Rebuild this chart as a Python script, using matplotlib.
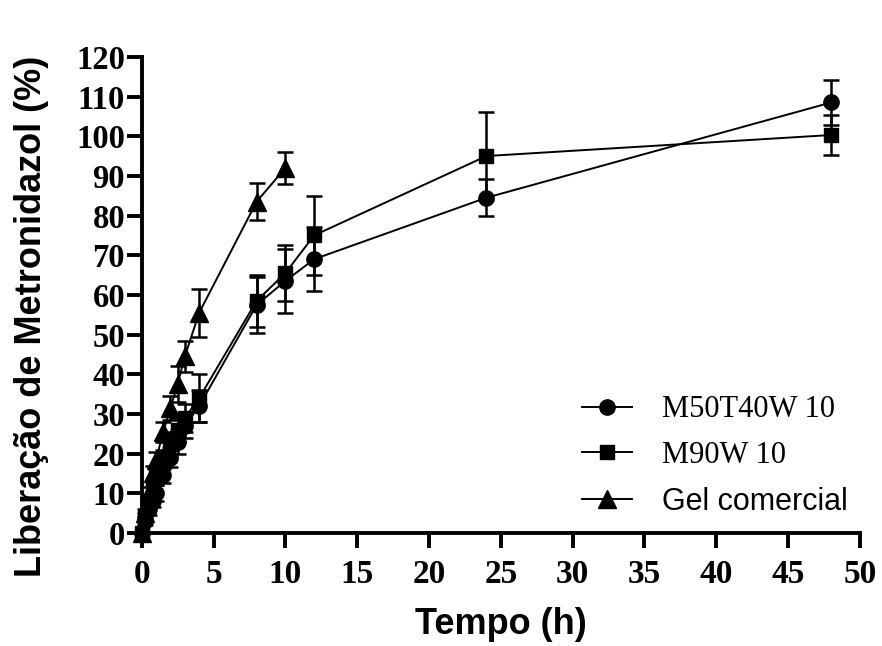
import matplotlib.pyplot as plt
from matplotlib.lines import Line2D

# Release data
t_m50 = [0, 0.25, 0.5, 0.75, 1, 1.5, 2, 2.5, 3, 4, 8, 10, 12, 24, 48]
y_m50 = [0, 3, 6, 8, 10, 14.5, 19, 23, 27, 32, 57.5, 63.5, 69, 84.5, 108.5]
e_m50 = [0, 1, 1.5, 1.5, 2, 2, 2.5, 3, 3, 4, 7, 8, 8, 4.7, 5.7]

t_m90 = [0, 0.25, 0.5, 0.75, 1, 1.5, 2, 2.5, 3, 4, 8, 10, 12, 24, 48]
y_m90 = [0, 4, 8, 11, 14, 18.5, 22.5, 26, 29, 34, 58.5, 65.5, 75, 95, 100.3]
e_m90 = [0, 1, 1.5, 2, 2, 2.5, 3, 3, 3.5, 6, 6.5, 7, 10, 11, 5]

t_gel = [0, 0.25, 0.5, 0.75, 1, 1.5, 2, 2.5, 3, 4, 8, 10]
y_gel = [0, 5, 10, 15, 18.5, 25.5, 31.5, 37.5, 44.5, 55.5, 83.5, 92]
e_gel = [0, 1, 1.5, 2, 2, 2.5, 3, 4.5, 4, 6, 4.6, 4]

labels = ['M50T40W 10', 'M90W 10', 'Gel comercial']

fig = plt.figure(figsize=(8.82, 6.46), dpi=100)
ax = fig.add_axes([0.1607, 0.175, 0.8143, 0.737])

series = [(t_m50, y_m50, e_m50, 'o', 11), (t_m90, y_m90, e_m90, 's', 10.5), (t_gel, y_gel, e_gel, '^', 13)]
handles = []
for (t, y, e, m, ms), lab in zip(series, labels):
    ax.errorbar(t, y, yerr=e, color='black', marker=m, markersize=ms, linewidth=1.4,
                elinewidth=1.8, capsize=5.5, capthick=1.8, clip_on=False, zorder=3)
    handles.append(Line2D([], [], color='black', marker=m, markersize=ms, linewidth=1.4, label=lab))

ax.set_xlim(0, 50)
ax.set_ylim(0, 120)
ax.set_xticks(range(0, 51, 5))
ax.set_yticks(range(0, 121, 10))
for s in ['top', 'right']:
    ax.spines[s].set_visible(False)
for s in ['left', 'bottom']:
    ax.spines[s].set_linewidth(2.8)
ax.tick_params(direction='out', length=11, width=2.8)
ax.tick_params(axis='x', pad=8)
ax.tick_params(axis='y', pad=1)
for lbl in ax.get_xticklabels():
    lbl.set_fontfamily('Liberation Serif')
    lbl.set_fontweight('bold')
    lbl.set_fontsize(24)
for lbl in ax.get_yticklabels():
    lbl.set_fontfamily('Liberation Serif')
    lbl.set_fontweight('bold')
    lbl.set_fontsize(23.5)

ax.set_xlabel('Tempo (h)', fontfamily='Liberation Sans', fontweight='bold', fontsize=26)
ax.xaxis.set_label_coords(0.5, -0.155)
ax.xaxis.label.set_va('top')
ax.set_ylabel('Liberação de Metronidazol (%)', fontfamily='Liberation Sans', fontweight='bold',
              fontsize=26)
ax.yaxis.set_label_coords(-0.129, 0.454)

leg = fig.legend(handles=handles, loc='upper left', bbox_to_anchor=(0.660, 0.388),
                 frameon=False, fontsize=22, handlelength=1.63, handletextpad=1.0,
                 labelspacing=0.55, borderpad=0, borderaxespad=0)
for txt, fam in zip(leg.get_texts(), ['Liberation Serif', 'Liberation Serif', 'Liberation Sans']):
    txt.set_fontfamily(fam)

fig.savefig('out.png', dpi=100)
